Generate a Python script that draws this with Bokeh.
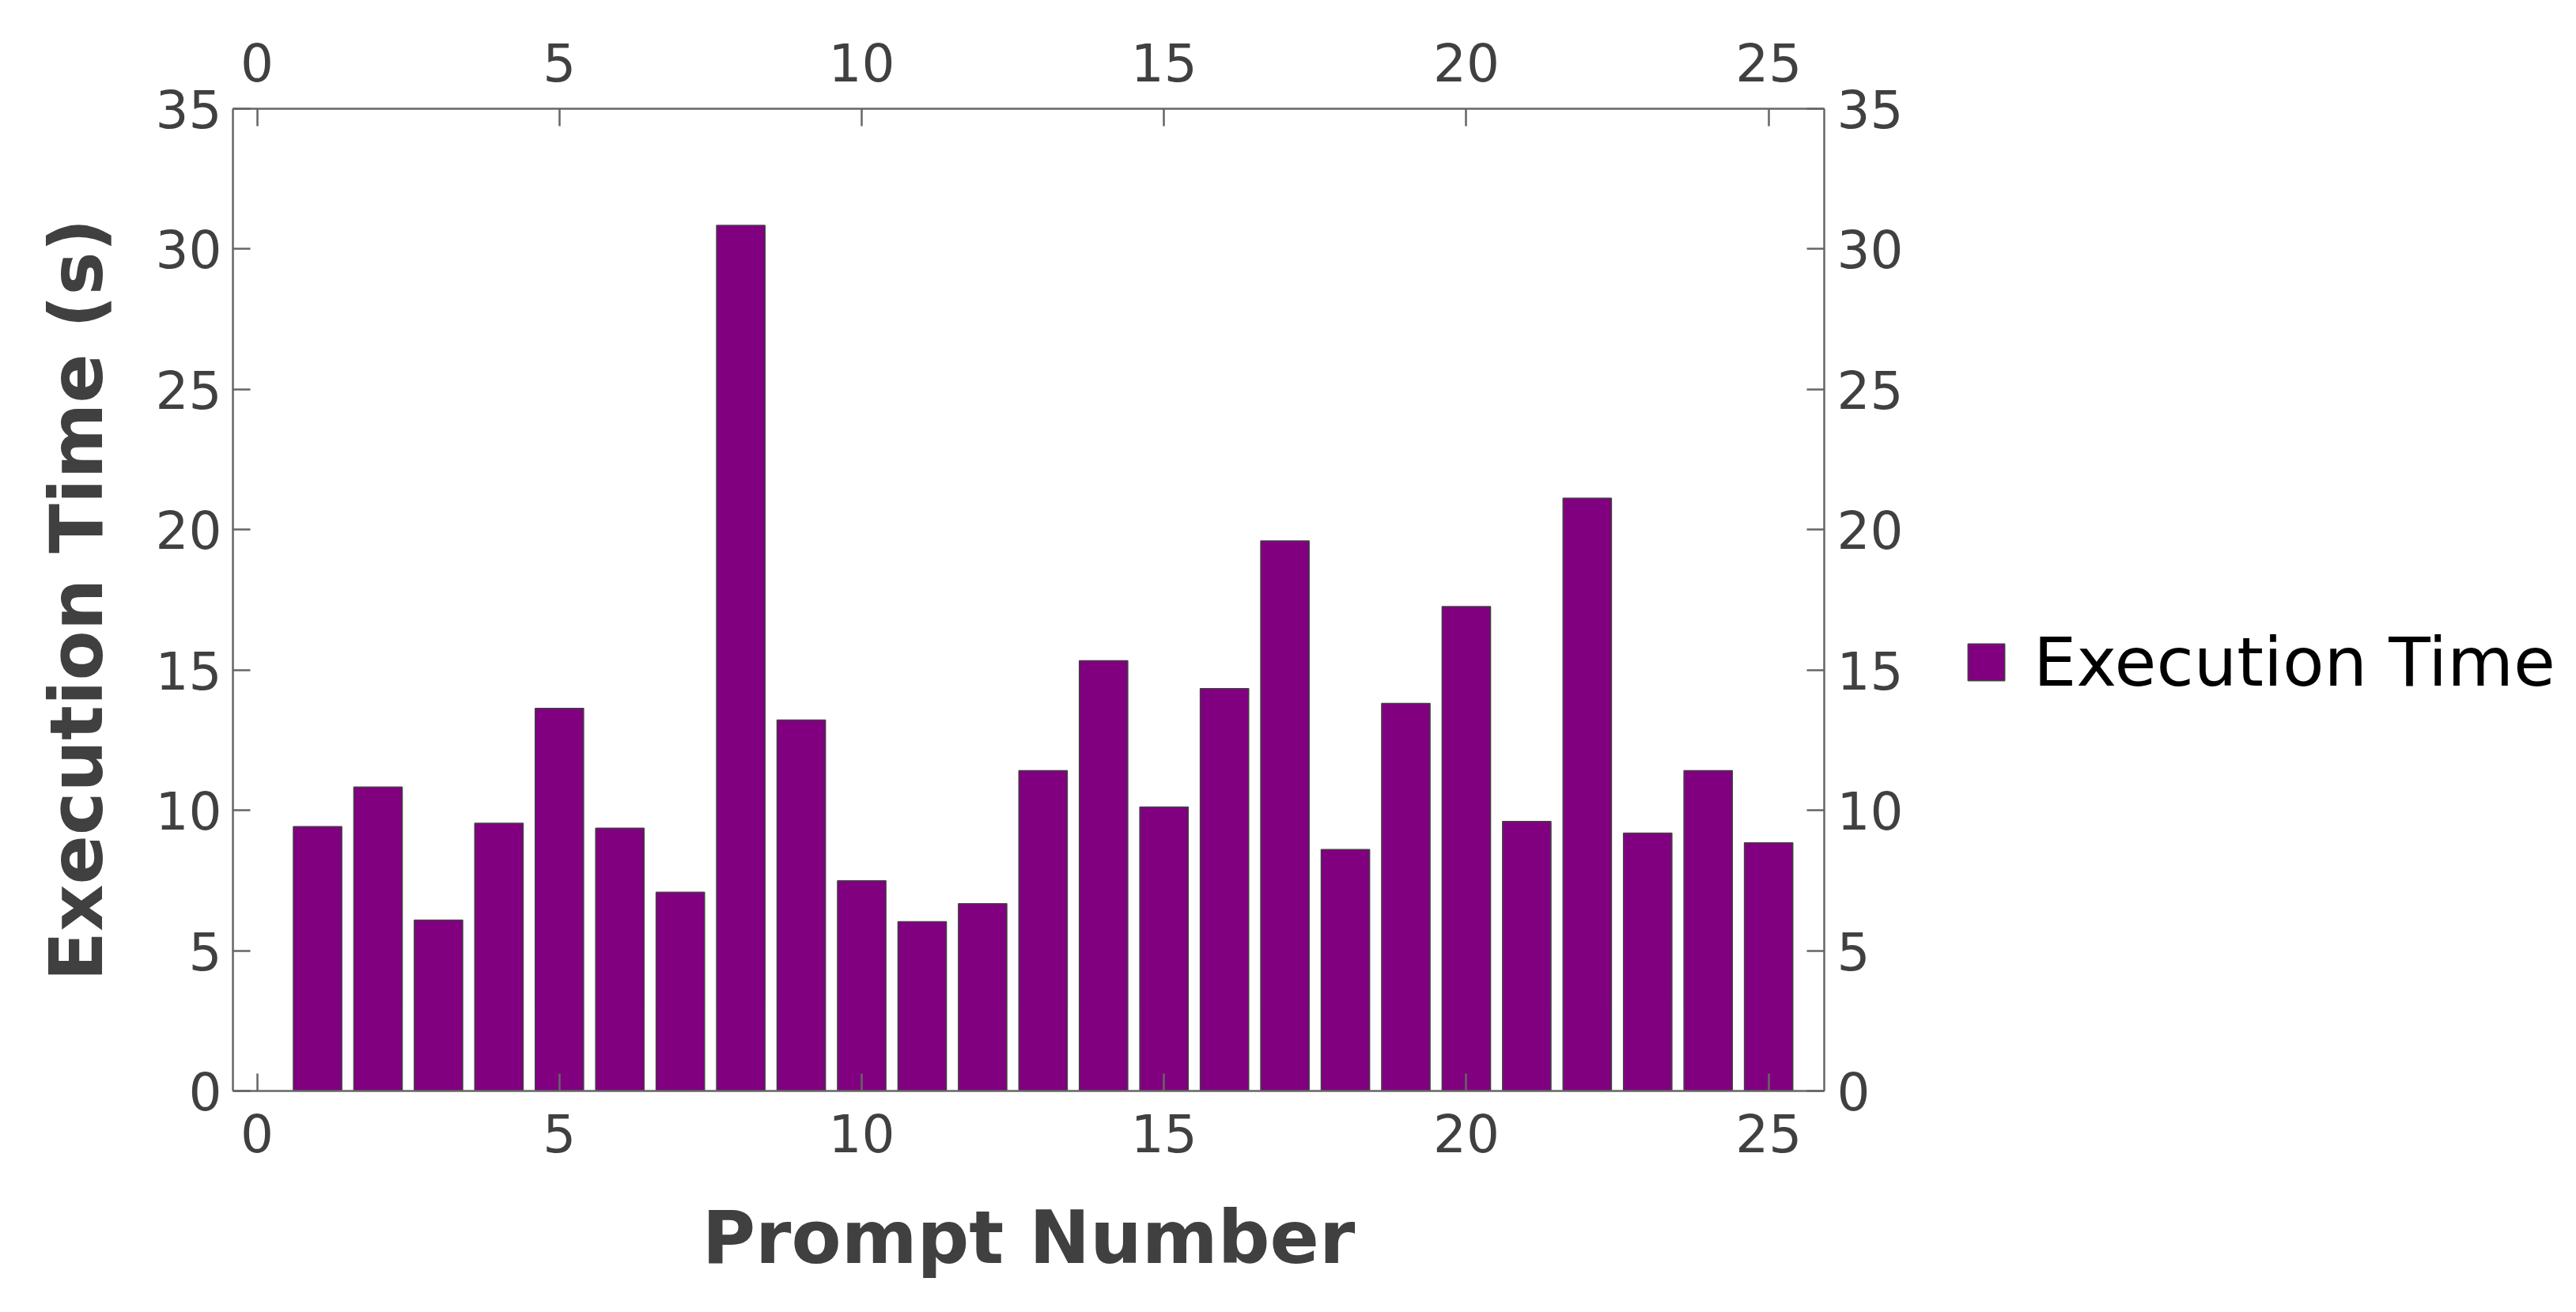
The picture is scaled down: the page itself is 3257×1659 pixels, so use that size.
from bokeh.plotting import figure
from bokeh.layouts import row
from bokeh.models import LinearAxis, FixedTicker, Range1d, Legend, LegendItem, ColumnDataSource
from bokeh.embed import file_html
from bokeh.resources import INLINE

# ---- data ----
prompts = list(range(1, 26))
exec_times = [9.42, 10.83, 6.09, 9.54, 13.63, 9.36, 7.08, 30.84, 13.22, 7.49,
              6.03, 6.67, 11.41, 15.33, 10.12, 14.34, 19.60, 8.60, 13.81, 17.26,
              9.60, 21.12, 9.19, 11.41, 8.84]
x_ticks = [0, 5, 10, 15, 20, 25]
y_ticks = [0, 5, 10, 15, 20, 25, 30, 35]
series_name = "Execution Time"
x_label = "Prompt Number"
y_label = "Execution Time (s)"

FONT = "DejaVu Sans"
AXIS_COLOR = "#666666"
TEXT_COLOR = "#404040"
BAR_FILL = "#800080"
BAR_LINE = "#404040"

W, H = 3241, 1643
MAIN_W = 2436
p = figure(width=MAIN_W, height=H, output_backend="svg", toolbar_location=None,
           x_range=Range1d(-0.4, 25.92), y_range=Range1d(0, 35),
           min_border_left=294, min_border_right=MAIN_W - 2306,
           min_border_top=137, min_border_bottom=H - 1379)
p.outline_line_color = None
p.xgrid.visible = False
p.ygrid.visible = False
p.background_fill_color = "white"
p.border_fill_color = "white"

bottom_ax = p.below[0]
left_ax = p.left[0]

src = ColumnDataSource(dict(x=prompts, top=exec_times))
r = p.vbar(x="x", top="top", width=0.8, bottom=0, source=src,
           fill_color=BAR_FILL, line_color=BAR_LINE, line_width=1.5)

above_ax = LinearAxis()
right_ax = LinearAxis()
p.add_layout(above_ax, "above")
p.add_layout(right_ax, "right")


def style(ax, ticks, standoff):
    ax.ticker = FixedTicker(ticks=ticks)
    ax.axis_line_color = AXIS_COLOR
    ax.axis_line_width = 2.5
    ax.major_tick_line_color = AXIS_COLOR
    ax.major_tick_line_width = 2.5
    ax.major_tick_in = 22
    ax.major_tick_out = 0
    ax.minor_tick_line_color = None
    ax.major_label_text_font = FONT
    ax.major_label_text_font_size = "66px"
    ax.major_label_text_color = TEXT_COLOR
    ax.major_label_text_line_height = 1.0
    ax.major_label_standoff = standoff


style(bottom_ax, x_ticks, 28)
style(above_ax, x_ticks, 35)
style(left_ax, y_ticks, 14)
style(right_ax, y_ticks, 16)

for ax, lab in ((bottom_ax, x_label), (left_ax, y_label)):
    ax.axis_label = lab
    ax.axis_label_text_font = FONT
    ax.axis_label_text_font_style = "bold"
    ax.axis_label_text_font_size = "92px"
    ax.axis_label_text_color = TEXT_COLOR
    ax.axis_label_text_line_height = 1.0
bottom_ax.axis_label_standoff = 52
left_ax.axis_label_standoff = 43

# ---- legend panel (same series, hidden renderer used only as legend key) ----
q = figure(width=W - MAIN_W, height=H, output_backend="svg", toolbar_location=None,
           x_range=Range1d(-20, -10), y_range=Range1d(100, 200),
           x_axis_type=None, y_axis_type=None,
           min_border_left=46, min_border_top=137, min_border_bottom=H - 1379,
           min_border_right=0)
q.outline_line_color = None
q.background_fill_color = "white"
q.border_fill_color = "white"
kr = q.vbar(x="x", top="top", width=0.8, bottom=0, source=src,
            fill_color=BAR_FILL, line_color=BAR_LINE, line_width=1.5)
kr.visible = False
legend = Legend(items=[LegendItem(label=series_name, renderers=[kr])],
                location=(0, 492), orientation="vertical",
                glyph_width=58, glyph_height=58, label_height=58,
                label_standoff=31, padding=0, margin=0, spacing=0,
                border_line_color=None, background_fill_alpha=0,
                inactive_fill_alpha=0,
                label_text_font=FONT, label_text_font_size="86px",
                label_text_color="black")
q.add_layout(legend, "center")

layout = row(p, q, spacing=0)
open("out.html", "w").write(file_html(layout, INLINE))
